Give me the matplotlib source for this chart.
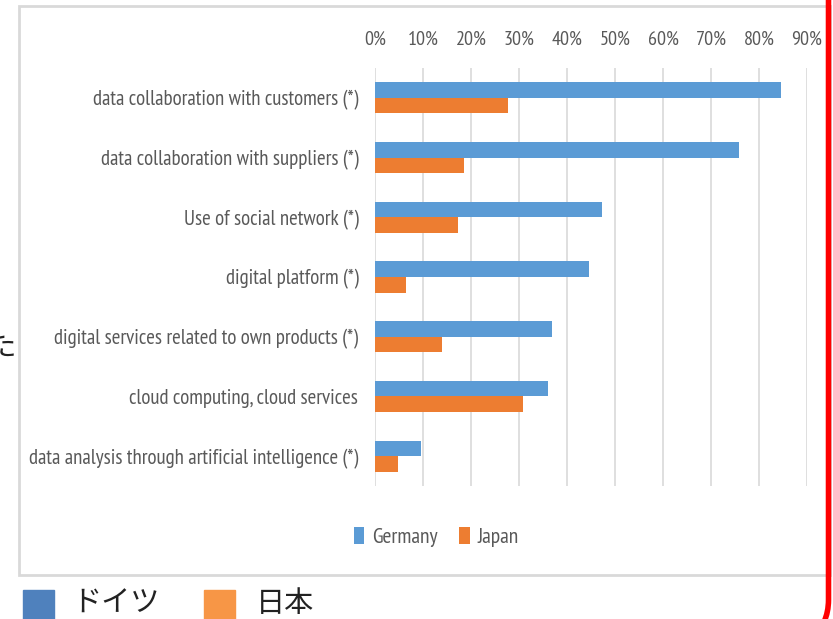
import matplotlib
matplotlib.use('Agg')
import matplotlib.pyplot as plt
import numpy as np
from matplotlib.patches import Rectangle, PathPatch
from matplotlib.path import Path
from matplotlib import font_manager

# データ
categories = [
    'data collaboration with customers (*)',
    'data collaboration with suppliers (*)',
    'Use of social network (*)',
    'digital platform (*)',
    'digital services related to own products (*)',
    'cloud computing, cloud services',
    'data analysis through artificial intelligence (*)',
]
germany = [0.845, 0.758, 0.472, 0.446, 0.369, 0.360, 0.096]
japan = [0.278, 0.185, 0.173, 0.065, 0.140, 0.308, 0.047]
ticks = [0.0, 0.1, 0.2, 0.3, 0.4, 0.5, 0.6, 0.7, 0.8, 0.9]
tick_labels = ['0%', '10%', '20%', '30%', '40%', '50%', '60%', '70%', '80%', '90%']
legend_jp = ['ドイツ', '日本']

# 細長いフォント（無ければ Carlito → DejaVu）
names = {f.name for f in font_manager.fontManager.ttflist}
font = 'DejaVu Sans'
for n in ['PT Sans Narrow', 'Carlito']:
    if n in names:
        font = n
        break
jp = ['Noto Sans CJK JP', 'DejaVu Sans']
grey = '#595959'

W, H = 833, 619
fig = plt.figure(figsize=(W / 100, H / 100), dpi=100)

def fx(x):
    return x / W

def fy(y):
    return 1 - y / H

# 外枠
fig.patches.append(Rectangle((fx(19), fy(575)), fx(830 - 19), fy(6) - fy(575),
                             transform=fig.transFigure, fill=False,
                             edgecolor='#d9d9d9', lw=2))

ax = fig.add_axes([fx(375), fy(486), fx(807 - 375), fy(68) - fy(486)])
y = np.arange(len(categories))
h = 0.26
ax.barh(y - h / 2, germany, height=h, color='#5b9bd5', label='Germany', zorder=3)
ax.barh(y + h / 2, japan, height=h, color='#ed7d31', label='Japan', zorder=3)
ax.set_ylim(len(categories) - 0.5, -0.5)
ax.set_xlim(0, 0.9)
ax.set_xticks(ticks)
ax.set_xticklabels(tick_labels, family=font, fontsize=14.5, color=grey)
ax.xaxis.tick_top()
ax.tick_params(axis='x', length=0, pad=14)
ax.set_yticks(y)
ax.set_yticklabels(categories, family=font, fontsize=15, color=grey)
ax.tick_params(axis='y', length=0, pad=12)
ax.grid(axis='x', color='#d9d9d9', lw=1.2, zorder=0)
for s in ax.spines.values():
    s.set_visible(False)

leg = fig.legend(loc='center', bbox_to_anchor=(fx(436), fy(537)), ncol=2, frameon=False,
                 handlelength=0.5, handleheight=0.8, handletextpad=0.35, columnspacing=1.0,
                 prop={'family': font, 'size': 15.5})
for t in leg.get_texts():
    t.set_color(grey)

# 下の日本語凡例
fig.patches.append(Rectangle((fx(23), fy(621)), fx(31), fy(590) - fy(621),
                             transform=fig.transFigure, color='#4f81bd'))
fig.text(fx(72), fy(604), legend_jp[0], fontsize=21, family=jp, color='#222222', va='center')
fig.patches.append(Rectangle((fx(204), fy(621)), fx(31), fy(590) - fy(621),
                             transform=fig.transFigure, color='#f79646'))
fig.text(fx(256), fy(604), legend_jp[1], fontsize=21, family=jp, color='#222222', va='center')

# 左端の切れた文字
fig.text(fx(16), fy(347), 'た', fontsize=22, family=jp, color='#222222', ha='right', va='center')

# 赤い線
verts = [(fx(828.5), fy(-5)), (fx(828.5), fy(600)), (fx(828.5), fy(612)), (fx(824), fy(622))]
codes = [Path.MOVETO, Path.LINETO, Path.CURVE3, Path.CURVE3]
fig.patches.append(PathPatch(Path(verts, codes), transform=fig.transFigure,
                             fill=False, edgecolor='#ff0000', lw=4))

fig.savefig('out.png', dpi=100, facecolor='white')
